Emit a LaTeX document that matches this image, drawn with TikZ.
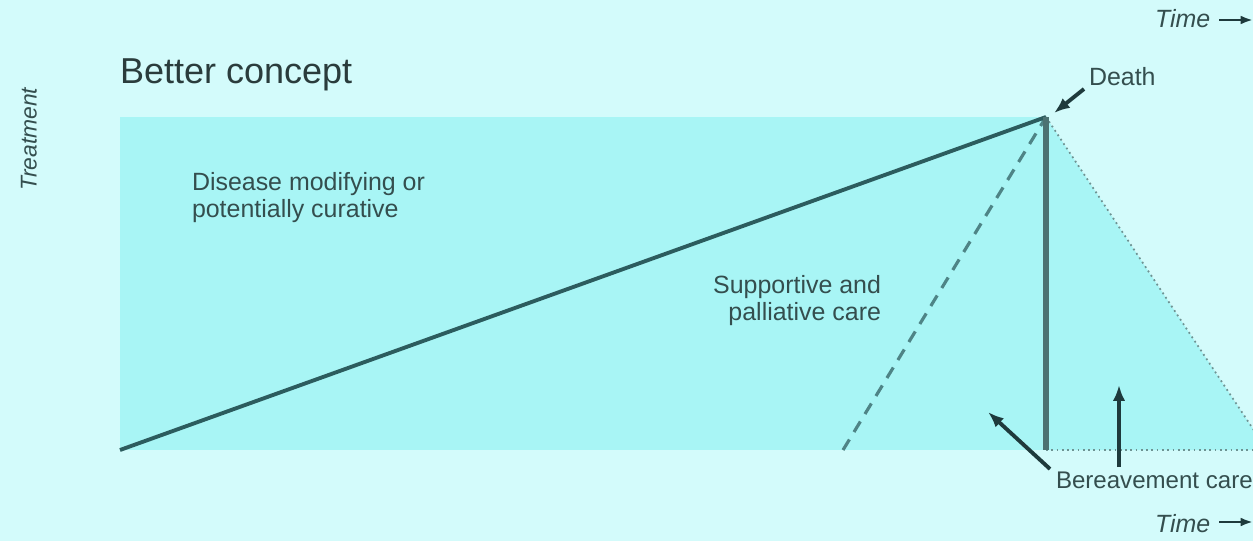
\documentclass[tikz,border=0pt]{standalone}
\usepackage{fontspec}
\setmainfont{Liberation Sans}
\usetikzlibrary{arrows.meta}
\definecolor{bgc}{HTML}{D3FBFB}
\definecolor{boxc}{HTML}{A8F5F5}
\definecolor{txtc}{HTML}{344E4E}
\definecolor{titc}{HTML}{2A3C3C}
\definecolor{linec}{HTML}{2C5C5E}
\definecolor{vertc}{HTML}{4C7272}
\definecolor{dashc}{HTML}{4E8486}
\definecolor{dotc}{HTML}{6E9292}
\definecolor{arrc}{HTML}{1E3A3C}
\tikzset{
  lbl/.style={inner sep=0pt, outer sep=0pt, text=txtc, font=\fontsize{14.2}{15}\selectfont},
  ttl/.style={inner sep=0pt, outer sep=0pt, text=titc, font=\fontsize{20.5}{24}\selectfont},
  timelbl/.style={inner sep=0pt, outer sep=0pt, text=txtc, font=\fontsize{14.2}{15}\selectfont\itshape},
  ptr/.style={draw=arrc, line width=2.2pt, -{Latex[length=9pt,width=7pt]}},
  timeptr/.style={draw=arrc, line width=1.6pt, -{Latex[length=7pt,width=5pt]}},
}
\begin{document}
\begin{tikzpicture}[x=0.02cm, y=-0.02cm]
\useasboundingbox (0,0) rectangle (1253,541);
\fill[bgc] (0,0) rectangle (1253,541);
% coordinates
\coordinate (bl) at (120,450);
\coordinate (apex) at (1046,117);
\coordinate (foot) at (1046,450);
\coordinate (dstart) at (843,450);
\coordinate (rend) at (1267,450);
% filled areas
\fill[boxc] (120,117) rectangle (foot);
\begin{scope}
\clip (0,0) rectangle (1253,541);
\fill[boxc] (apex) -- (rend) -- (foot) -- cycle;
\draw[dotc, line width=1pt, dotted] (apex) -- (rend);
\end{scope}
\draw[dotc, line width=1pt, dotted] (foot) -- (1253,450);
% lines
\draw[dashc, line width=1.8pt, dash pattern=on 7pt off 5pt] (dstart) -- (apex);
\draw[linec, line width=2.2pt] (bl) -- (apex);
\draw[vertc, line width=3pt] (apex) -- (foot);
% texts
\node[ttl, anchor=base west] (title) at (120,83) {Better concept};
\node[lbl, anchor=base west, align=left] (dis) at (192,217) {Disease modifying or\\potentially curative};
\node[lbl, anchor=base east, align=right] (sup) at (881,320) {Supportive and\\palliative care};
\node[lbl, anchor=base west] (death) at (1089,85) {Death};
\node[lbl, anchor=base west, font=\fontsize{13.7}{15}\selectfont] (ber) at (1056,488) {Bereavement care};
\node[timelbl, anchor=base west] (ttop) at (1155,28) {Time};
\node[timelbl, anchor=base west] (tbot) at (1155,532) {Time};
\node[timelbl, rotate=90, font=\fontsize{13}{15}\selectfont\itshape] (treat) at (29,139) {Treatment};
% pointers
\coordinate (dp1) at (1084,89);
\coordinate (dp2) at (1054,113);
\draw[ptr] (dp1) -- (dp2);
\coordinate (bp1) at (1050,469);
\coordinate (bp2) at (988,412);
\draw[ptr] (bp1) -- (bp2);
\coordinate (bv1) at (1119,467);
\coordinate (bv2) at (1119,385);
\draw[ptr] (bv1) -- (bv2);
\coordinate (tt1) at (1219,20);
\coordinate (tt2) at (1253,20);
\draw[timeptr] (tt1) -- (tt2);
\coordinate (tb1) at (1219,522);
\coordinate (tb2) at (1253,522);
\draw[timeptr] (tb1) -- (tb2);
\end{tikzpicture}
\end{document}
